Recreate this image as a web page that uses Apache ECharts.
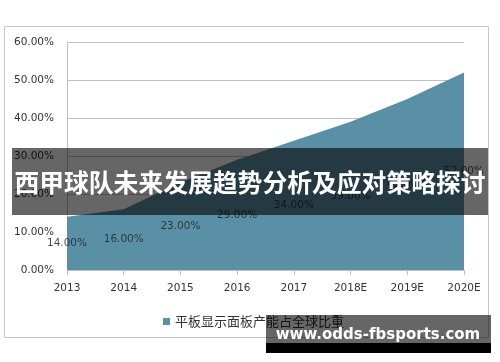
<!DOCTYPE html>
<html><head><meta charset="utf-8">
<script src="https://cdn.jsdelivr.net/npm/echarts@6/dist/echarts.min.js"></script>
<style>html,body{margin:0;padding:0;background:#fff}#c{width:500px;height:362px}</style>
</head><body><div id="c"></div>
<script>
const categories = ['2013','2014','2015','2016','2017','2018E','2019E','2020E'];
const shareValues = [14, 16, 23, 29, 34, 39, 45, 52];
const yTicks = ['0.00%','10.00%','20.00%','30.00%','40.00%','50.00%','60.00%'];
const seriesName = '平板显示面板产能占全球比重';
const bannerText = '西甲球队未来发展趋势分析及应对策略探讨';
const watermarkText = 'www.odds-fbsports.com';

const chart = echarts.init(document.getElementById('c'), null, {renderer:'canvas'});
const numFont = 'DejaVu Sans';
chart.setOption({
  animation:false,
  backgroundColor:'#fff',
  grid:{left:67,right:36,top:42,bottom:92},
  legend:{
    data:[seriesName], left:158, top:310, icon:'rect', itemWidth:7, itemHeight:7, itemGap:4,
    textStyle:{fontFamily:'Noto Sans CJK SC', fontSize:13, color:'#333'}
  },
  xAxis:{
    type:'category', data:categories, boundaryGap:false,
    axisLine:{lineStyle:{color:'#bfbfbf', width:1}},
    axisTick:{show:true, length:5, lineStyle:{color:'#bfbfbf'}},
    axisLabel:{margin:13, fontFamily:numFont, fontSize:10.5, color:'#333'}
  },
  yAxis:{
    type:'value', min:0, max:60, interval:10,
    axisLine:{show:true, lineStyle:{color:'#bfbfbf'}},
    axisTick:{show:false},
    splitLine:{lineStyle:{color:'#bfbfbf', width:1}},
    axisLabel:{margin:13, fontFamily:numFont, fontSize:10.5, color:'#333',
      formatter:(v)=>yTicks[Math.round(v/10)]}
  },
  series:[
    {name:seriesName, type:'line', data:shareValues, symbol:'none',
     lineStyle:{width:0}, itemStyle:{color:'#5a90a6'},
     areaStyle:{color:'#5a90a6', opacity:1}, z:2},
    {name:'labels', type:'scatter', symbolSize:0, silent:true,
     data:shareValues.map(v=>v/2),
     label:{show:true, position:'inside', fontFamily:numFont, fontSize:10.5, color:'#1f1f1f',
       formatter:(p)=>shareValues[p.dataIndex].toFixed(2)+'%'}, z:3}
  ],
  graphic:[
    {type:'rect', shape:{x:4.5,y:26.5,width:484,height:311}, style:{fill:'none', stroke:'#c8c8c8', lineWidth:1}, z:-1},
    {type:'rect', shape:{x:12,y:148,width:476,height:67}, style:{fill:'rgba(0,0,0,0.6)'}, z:100},
    {type:'text', x:250, y:183, style:{text:bannerText, fill:'#fff', fontFamily:'Noto Sans CJK SC', fontWeight:'bold', fontSize:24.8, textAlign:'center', textVerticalAlign:'middle'}, z:101},
    {type:'rect', shape:{x:266,y:315,width:225,height:28}, style:{fill:'rgba(0,0,0,0.6)'}, z:100},
    {type:'rect', shape:{x:266,y:343,width:225,height:10}, style:{fill:'#000'}, z:100},
    {type:'text', x:378, y:335, style:{text:watermarkText, fill:'#fff', fontFamily:'DejaVu Sans', fontWeight:'bold', fontSize:15, textAlign:'center', textVerticalAlign:'middle'}, z:101}
  ]
});
</script></body></html>
